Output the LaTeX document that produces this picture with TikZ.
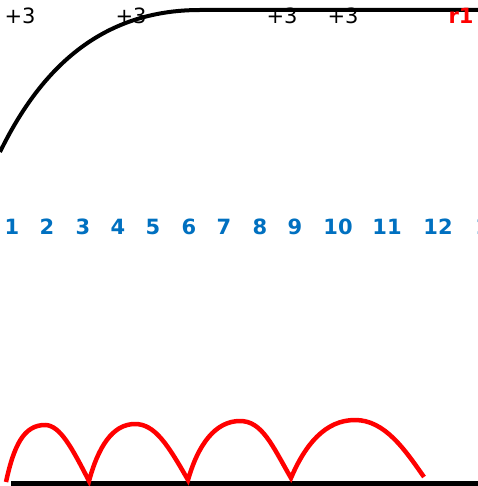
\documentclass[tikz,border=0pt]{standalone}
\usepackage{fontspec}
\setmainfont{DejaVu Sans}
\definecolor{numblue}{RGB}{0,112,192}
\begin{document}
\begin{tikzpicture}[x=1pt,y=-1pt,
  plus/.style={font=\fontsize{21}{21}\selectfont, text=black, inner sep=0pt},
  num/.style={font=\fontsize{21}{21}\selectfont\bfseries, text=numblue, inner sep=0pt},
  hop/.style={draw=red, line width=4.5pt, line cap=butt},
  bar/.style={draw=black, line width=4pt}]
\useasboundingbox (0,0) rectangle (477,486);
% top curve
\draw[bar] (0,152) .. controls (40,70) and (100,10) .. (200,10) -- (480,10);
% labels on top
\node[plus] (p1) at (20,16) {+3};
\node[plus] (p2) at (131,16) {+3};
\node[plus] (p3) at (282,16) {+3};
\node[plus] (p4) at (343,16) {+3};
\node[plus, text=red, font=\fontsize{21}{21}\selectfont\bfseries] (r1) at (461,16) {r1};
% number row
\foreach \n/\x in {1/12,2/47,3/83,4/118,5/153,6/189,7/224,8/260,9/295,10/338,11/387,12/438,13/490}
  \node[num] (n\n) at (\x,227) {\n};
% bottom line
\draw[draw=black, line width=5pt] (11,483) -- (480,483);
% hops
\draw[hop] (6,482) .. controls (14,445) and (24,425) .. (45,425)
  .. controls (60,425) and (72,448) .. (89,481)
  .. controls (98,448) and (112,424) .. (135,424)
  .. controls (155,424) and (168,445) .. (188,480)
  .. controls (198,445) and (215,421) .. (240,421)
  .. controls (262,421) and (272,445) .. (291,478)
  .. controls (305,445) and (325,420) .. (355,420)
  .. controls (385,420) and (405,450) .. (424,477);
\end{tikzpicture}
\end{document}
